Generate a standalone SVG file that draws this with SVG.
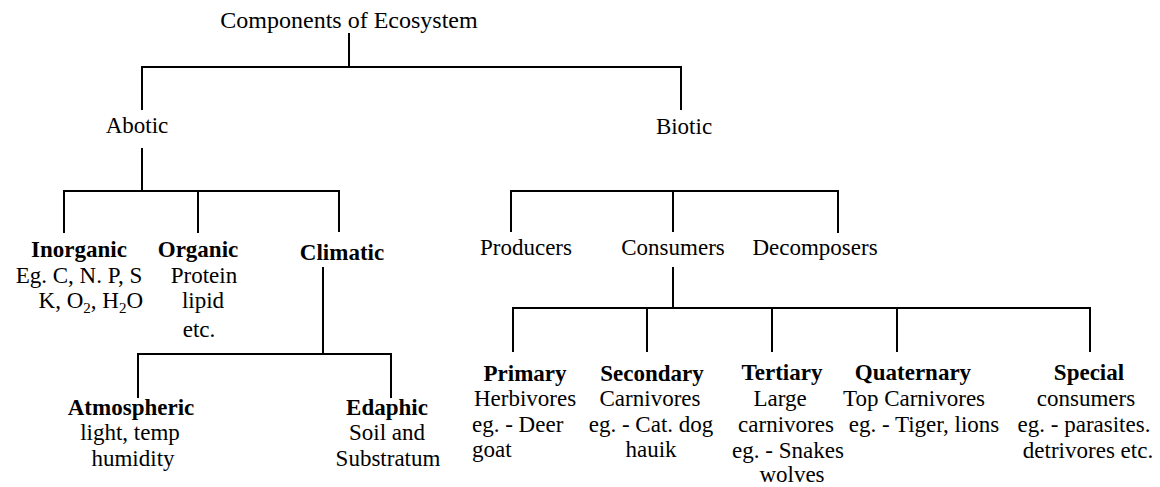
<svg xmlns="http://www.w3.org/2000/svg" width="1160" height="487" viewBox="0 0 1160 487">
<style>
text { font-family: "Liberation Serif", "Times New Roman", serif; font-size: 23px; fill: #000; text-anchor: middle; }
.b { font-weight: bold; }
.t { font-size: 24px; }
.sub { font-size: 15px; }
#connectors path { fill: none; stroke: #000; stroke-width: 2; }
</style>
<rect width="1160" height="487" fill="#fff"/>
<g id="connectors">
  <path d="M349 33 V67 M142 110 V67 H681 V110"/>
  <path d="M142 148 V191 M64 233 V191 H339 V232 M198 191 V233"/>
  <path d="M323 267 V354 M138 398 V354 H391 V398"/>
  <path d="M511 232 V191 H838 V233 M673 191 V232"/>
  <path d="M673 267 V308 M513 352 V308 H1090 V352 M647 308 V352 M772 308 V352 M897 308 V352"/>
</g>
<g id="root"><text class="t" x="349" y="28">Components of Ecosystem</text></g>
<g id="abotic"><text x="137" y="133">Abotic</text></g>
<g id="biotic"><text x="684" y="134">Biotic</text></g>
<g id="inorganic">
  <text class="b" x="79" y="257">Inorganic</text>
  <text x="79" y="283">Eg. C, N. P, S</text>
  <text x="143" y="308" style="text-anchor:end">K, O<tspan class="sub" dy="5">2</tspan><tspan dy="-5">, H</tspan><tspan class="sub" dy="5">2</tspan><tspan dy="-5">O</tspan></text>
</g>
<g id="organic">
  <text class="b" x="198" y="257">Organic</text>
  <text x="204" y="283">Protein</text>
  <text x="203" y="308">lipid</text>
  <text x="199" y="337">etc.</text>
</g>
<g id="climatic"><text class="b" x="342" y="260">Climatic</text></g>
<g id="atmospheric">
  <text class="b" x="131" y="415">Atmospheric</text>
  <text x="130" y="440">light, temp</text>
  <text x="133" y="466">humidity</text>
</g>
<g id="edaphic">
  <text class="b" x="387" y="415">Edaphic</text>
  <text x="387" y="440">Soil and</text>
  <text x="388" y="466">Substratum</text>
</g>
<g id="producers"><text x="526" y="255">Producers</text></g>
<g id="consumers"><text x="673" y="255">Consumers</text></g>
<g id="decomposers"><text x="815" y="255">Decomposers</text></g>
<g id="primary">
  <text class="b" x="525" y="381">Primary</text>
  <text x="525" y="406">Herbivores</text>
  <text x="472" y="432" style="text-anchor:start">eg. - Deer</text>
  <text x="472" y="457" style="text-anchor:start">goat</text>
</g>
<g id="secondary">
  <text class="b" x="652" y="381">Secondary</text>
  <text x="650" y="406">Carnivores</text>
  <text x="651" y="432">eg. - Cat. dog</text>
  <text x="651" y="457">hauik</text>
</g>
<g id="tertiary">
  <text class="b" x="782" y="380">Tertiary</text>
  <text x="780" y="406">Large</text>
  <text x="786" y="432">carnivores</text>
  <text x="788" y="458">eg. - Snakes</text>
  <text x="792" y="482">wolves</text>
</g>
<g id="quaternary">
  <text class="b" x="913" y="380">Quaternary</text>
  <text x="914" y="406">Top Carnivores</text>
  <text x="924" y="432">eg. - Tiger, lions</text>
</g>
<g id="special">
  <text class="b" x="1089" y="380">Special</text>
  <text x="1086" y="406">consumers</text>
  <text x="1084" y="432">eg. - parasites.</text>
  <text x="1088" y="458">detrivores etc.</text>
</g>
</svg>
